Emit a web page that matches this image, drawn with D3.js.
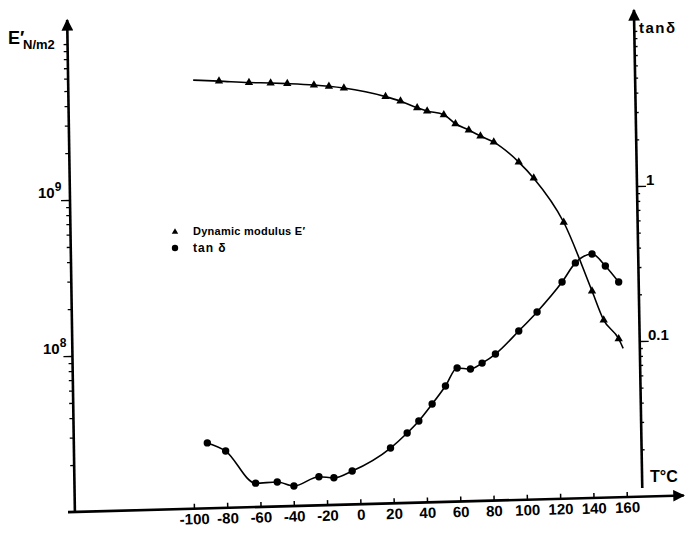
<!DOCTYPE html>
<meta charset="utf-8">
<style>
  body { margin: 0; background: #fff; }
  svg { display: block; }
  text { font-family: 'Liberation Sans', Arial, sans-serif; font-weight: bold; fill: #000; }
  .curve { fill: none; stroke: #000; stroke-width: 1.6px; }
  .axis-line { stroke: #000; stroke-width: 2.6px; }
</style>
<script src="https://d3js.org/d3.v7.min.js"></script>
<svg width="693" height="535"></svg>
<script>
  // dynamic modulus E' (N/m2), triangles
  var eTemp = [-85, -67, -54, -44, -28, -19, -10, 15, 24, 34, 40, 50, 57, 65, 72, 80, 95, 104, 122, 139, 146, 155];
  var eMod = [5.78e9, 5.66e9, 5.62e9, 5.57e9, 5.46e9, 5.36e9, 5.22e9, 4.6e9, 4.3e9, 3.9e9, 3.72e9, 3.52e9,
              3.08e9, 2.81e9, 2.57e9, 2.35e9, 1.75e9, 1.38e9, 7.2e8, 2.61e8, 1.7e8, 1.29e8];
  // where the drawn E' curve starts and stops
  var eLineT = [-100.5, 157.7];
  var eLineV = [5.87e9, 1.12e8];

  // tan delta, circles
  var tTemp = [-92, -81, -63, -50, -40, -25, -16, -5, 18, 28, 35, 43, 51, 58, 66, 73, 81, 95, 106, 121, 129, 139, 147, 155];
  var tanD = [0.022, 0.0195, 0.0121, 0.0123, 0.0116, 0.0133, 0.0131, 0.0145, 0.0204, 0.0255, 0.0305, 0.0392,
              0.0513, 0.067, 0.066, 0.072, 0.0824, 0.116, 0.154, 0.24, 0.319, 0.364, 0.305, 0.24];

  var xTicks = [-100, -80, -60, -40, -20, 0, 20, 40, 60, 80, 100, 120, 140, 160];
  var eDecades = [1e8, 1e9];
  var tDecades = [0.1, 1];

  var svg = d3.select("svg");

  var x = d3.scaleLinear().domain([-100, 160]).range([194, 627]);
  var yE = d3.scaleLog().domain([1e7, 1e10]).range([512, 44]);
  var yT = d3.scaleLog().domain([0.01, 10]).range([496, 31]);

  function minorTicks(lo, hi) {
    var out = [];
    for (var p = lo; p < hi; p++)
      for (var m = 1; m < 10; m++) out.push(m * Math.pow(10, p));
    out.push(Math.pow(10, hi));
    return out;
  }

  var defs = svg.append("defs");
  defs.append("marker")
    .attr("id", "arrow")
    .attr("viewBox", "0 0 10 10")
    .attr("refX", 9).attr("refY", 5)
    .attr("markerWidth", 5).attr("markerHeight", 4.5)
    .attr("markerUnits", "strokeWidth")
    .attr("orient", "auto")
    .append("path").attr("d", "M0,0L10,5L0,10z").attr("fill", "#000");

  // left axis (E')
  var gl = svg.append("g").attr("transform", "rotate(-0.9,70,200) translate(70,0)");
  gl.append("line").attr("class", "axis-line")
    .attr("y1", yE(1e7)).attr("y2", 20).attr("marker-end", "url(#arrow)");
  gl.call(d3.axisLeft(yE).tickValues(minorTicks(7, 10).filter(function(d) { return d > 1e7; }))
      .tickSize(4).tickFormat(""))
    .call(function(g) { g.select(".domain").remove(); });
  gl.selectAll(".tick line").attr("stroke-width", 1.3)
    .filter(function(d) { return eDecades.indexOf(d) >= 0; }).attr("x2", -9);

  eDecades.forEach(function(d) {
    var t = svg.append("text").attr("x", d === 1e9 ? 38 : 43).attr("y", yE(d) - 2)
      .style("font-size", "15px").text("10");
    t.append("tspan").attr("dy", -7).style("font-size", "12px").text(Math.round(Math.log10(d)));
  });

  // right axis (tan delta)
  var gr = svg.append("g").attr("transform", "rotate(-1,637,186) translate(637,0)");
  gr.append("line").attr("class", "axis-line")
    .attr("y1", 488).attr("y2", 10).attr("marker-end", "url(#arrow)");
  gr.call(d3.axisRight(yT).tickValues(minorTicks(-2, 1).filter(function(d) { return d > 0.011; }))
      .tickSize(3).tickFormat(""))
    .call(function(g) { g.select(".domain").remove(); });
  gr.selectAll(".tick line").attr("stroke-width", 1.3)
    .filter(function(d) { return tDecades.some(function(v) { return Math.abs(v - d) < 1e-9; }); }).attr("x2", 9);

  tDecades.forEach(function(d) {
    svg.append("text").attr("x", d === 1 ? 646 : 648).attr("y", yT(d) - 1)
      .style("font-size", "15px").text(d === 1 ? "1" : "0.1");
  });

  // bottom axis (temperature)
  var gx = svg.append("g").attr("transform", "rotate(-1.55,73,512) translate(0,512)");
  gx.append("line").attr("class", "axis-line")
    .attr("x1", 68).attr("x2", 684).attr("marker-end", "url(#arrow)");
  gx.call(d3.axisBottom(x).tickValues(xTicks).tickSize(-5).tickPadding(5)
      .tickFormat(function(d) { return String(d); }))
    .call(function(g) { g.select(".domain").remove(); });
  gx.selectAll(".tick line").attr("stroke-width", 1.5);
  gx.selectAll(".tick text")
    .style("font-family", "'Liberation Sans', Arial, sans-serif")
    .style("font-weight", "bold").style("font-size", "15px");

  // axis titles
  var et = svg.append("text").attr("x", 8).attr("y", 44).style("font-size", "18px").text("E\u2032");
  et.append("tspan").attr("x", 23).attr("y", 49).style("font-size", "13px").text("N/m2");
  svg.append("text").attr("x", 639).attr("y", 33).style("font-size", "15px")
    .style("letter-spacing", "1.5px").text("tan\u03b4");
  svg.append("text").attr("x", 650).attr("y", 482).style("font-size", "16px").text("T\u00b0C");

  // E' curve and markers
  var ePts = eTemp.map(function(t, i) { return [t, eMod[i]]; });
  var eLine = [[eLineT[0], eLineV[0]]].concat(ePts, [[eLineT[1], eLineV[1]]]);
  var lineE = d3.line().x(function(d) { return x(d[0]); }).y(function(d) { return yE(d[1]); })
    .curve(d3.curveMonotoneX);
  svg.append("path").attr("class", "curve").attr("d", lineE(eLine));

  var tri = d3.symbol().type(d3.symbolTriangle).size(30);
  svg.selectAll(".tri").data(ePts).enter().append("path")
    .attr("class", "tri")
    .attr("d", tri)
    .attr("transform", function(d) { return "translate(" + x(d[0]) + "," + yE(d[1]) + ")"; });

  // tan delta curve and markers
  var tPts = tTemp.map(function(t, i) { return [t, tanD[i]]; });
  var lineT = d3.line().x(function(d) { return x(d[0]); }).y(function(d) { return yT(d[1]); })
    .curve(d3.curveMonotoneX);
  svg.append("path").attr("class", "curve").attr("d", lineT(tPts));

  svg.selectAll(".dot").data(tPts).enter().append("circle")
    .attr("class", "dot")
    .attr("r", 3.7)
    .attr("cx", function(d) { return x(d[0]); })
    .attr("cy", function(d) { return yT(d[1]); });

  // legend
  svg.append("path").attr("d", d3.symbol().type(d3.symbolTriangle).size(18))
    .attr("transform", "translate(175,232)");
  svg.append("text").attr("x", 193).attr("y", 235).style("font-size", "11px")
    .style("letter-spacing", "0.25px").text("Dynamic modulus E\u2032");
  svg.append("circle").attr("cx", 175).attr("cy", 248).attr("r", 3.2);
  svg.append("text").attr("x", 193).attr("y", 252).style("font-size", "12px")
    .style("letter-spacing", "1px").text("tan \u03b4");
</script>
